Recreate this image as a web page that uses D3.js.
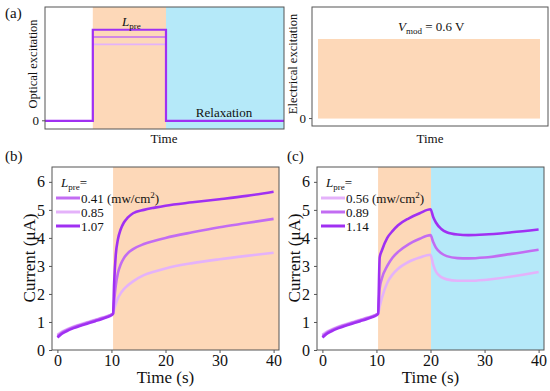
<!DOCTYPE html>
<html>
<head>
<meta charset="utf-8">
<script src="https://cdn.jsdelivr.net/npm/d3@7"></script>
<style>
body { margin:0; background:#fff; }
svg text { font-family:"Liberation Serif","Tinos","Times New Roman","Times","Nimbus Roman","DejaVu Serif",serif; fill:#111; }
</style>
</head>
<body>
<svg id="fig" width="550" height="391"></svg>
<script>
// colores de las curvas
var cDark = "#a030f2", cMed = "#c26cf2", cLight = "#e4b2fa";
var cOrange = "#fdd8b8", cCyan = "#b5e9f9";

// (a) excitacion optica: niveles del pulso
var pulseT = [0, 8, 8, 20.25, 20.25, 40];
var pulseLevels = [1.0, 0.92, 0.84];
var pulseColors = [cDark, cMed, cLight];

// (b) curvas de corriente
var bT = [0, 0.5, 1, 2, 3, 4, 5, 6, 7, 8, 9, 10, 10.3, 10.5, 10.8, 11.2, 11.7, 12.3, 13, 14, 16, 18, 20, 25, 30, 35, 40];
var bDark  = [0.45, 0.53, 0.6, 0.7, 0.78, 0.85, 0.91, 0.97, 1.03, 1.09, 1.16, 1.24, 1.3, 2.4, 3.4, 3.95, 4.3, 4.55, 4.72, 4.88, 5.0, 5.08, 5.15, 5.27, 5.38, 5.5, 5.65];
var bMed   = [0.5, 0.57, 0.64, 0.73, 0.81, 0.88, 0.94, 1.0, 1.06, 1.12, 1.18, 1.26, 1.3, 1.75, 2.3, 2.75, 3.05, 3.28, 3.45, 3.6, 3.78, 3.9, 4.0, 4.2, 4.38, 4.53, 4.68];
var bLight = [0.55, 0.61, 0.67, 0.76, 0.84, 0.9, 0.96, 1.02, 1.08, 1.14, 1.2, 1.27, 1.3, 1.45, 1.65, 1.85, 2.02, 2.17, 2.3, 2.45, 2.67, 2.8, 2.91, 3.1, 3.24, 3.36, 3.47];
var bLegend = ["0.41 (mw/cm", "0.85", "1.07"];
var bLegendColors = [cMed, cLight, cDark];

// (c) curvas de corriente con relajacion
var cT = [0, 0.5, 1, 2, 3, 4, 5, 6, 7, 8, 9, 10, 10.3, 10.6, 11, 12, 13, 14, 16, 18, 20, 20.5, 21, 22, 23, 25, 27, 30, 35, 40];
var cDarkV  = [0.45, 0.53, 0.6, 0.7, 0.78, 0.85, 0.91, 0.97, 1.03, 1.09, 1.16, 1.24, 1.3, 3.3, 3.55, 4.0, 4.25, 4.45, 4.7, 4.88, 5.02, 4.75, 4.55, 4.32, 4.2, 4.12, 4.1, 4.12, 4.2, 4.3];
var cMedV   = [0.5, 0.57, 0.64, 0.73, 0.81, 0.88, 0.94, 1.0, 1.06, 1.12, 1.18, 1.26, 1.3, 2.2, 2.55, 3.0, 3.3, 3.5, 3.78, 3.97, 4.1, 3.85, 3.65, 3.45, 3.35, 3.28, 3.27, 3.3, 3.43, 3.58];
var cLightV = [0.55, 0.61, 0.67, 0.76, 0.84, 0.9, 0.96, 1.02, 1.08, 1.14, 1.2, 1.27, 1.3, 1.55, 1.85, 2.4, 2.7, 2.9, 3.15, 3.3, 3.4, 3.05, 2.8, 2.6, 2.52, 2.47, 2.47, 2.5, 2.62, 2.78];
var cLegend = ["0.56 (mw/cm", "0.89", "1.14"];
var cLegendColors = [cLight, cMed, cDark];

var xTicks = [0, 10, 20, 30, 40];
var yTicks = [0, 1, 2, 3, 4, 5, 6];

var svg = d3.select("#fig");

function marco(g, x0, x1, y0, y1) {
	g.append("rect").attr("x", x0).attr("y", y0).attr("width", x1 - x0).attr("height", y1 - y0)
		.attr("fill", "none").attr("stroke", "#555").attr("stroke-width", 1);
}

//********************** (a) izquierda ***********************//
var ax = d3.scaleLinear().domain([0, 40]).range([45, 284]);
var ay = d3.scaleLinear().domain([-0.09, 1.25]).range([129, 7]);
svg.append("rect").attr("x", ax(8)).attr("y", 7).attr("width", ax(20.25) - ax(8)).attr("height", 122).attr("fill", cOrange);
svg.append("rect").attr("x", ax(20.25)).attr("y", 7).attr("width", ax(40) - ax(20.25)).attr("height", 122).attr("fill", cCyan);
pulseLevels.slice().reverse().forEach(function(lv, k) {
	var i = pulseLevels.length - 1 - k;
	var vals = [0, 0, lv, lv, 0, 0];
	svg.append("path")
		.datum(pulseT.map(function(t, j) { return [t, vals[j]]; }))
		.attr("fill", "none").attr("stroke", pulseColors[i]).attr("stroke-width", i == 0 ? 2.2 : 1.6)
		.attr("d", d3.line().x(function(d) { return ax(d[0]); }).y(function(d) { return ay(d[1]); }));
});
marco(svg, 45, 284, 7, 129);
svg.append("line").attr("x1", 42).attr("x2", 45).attr("y1", ay(0)).attr("y2", ay(0)).attr("stroke", "#555");
svg.append("text").attr("x", 39).attr("y", ay(0) + 4.5).attr("text-anchor", "end").attr("font-size", 13).text("0");
svg.append("text").attr("x", 5).attr("y", 18).attr("font-size", 15).text("(a)");
svg.append("text").attr("transform", "translate(37,64) rotate(-90)").attr("text-anchor", "middle").attr("font-size", 12.5).text("Optical excitation");
svg.append("text").attr("x", 164).attr("y", 143).attr("text-anchor", "middle").attr("font-size", 13).text("Time");
var lp = svg.append("text").attr("x", 122).attr("y", 26).attr("font-size", 13);
lp.append("tspan").attr("font-style", "italic").text("L");
lp.append("tspan").attr("font-size", 9).attr("dy", 3).text("pre");
svg.append("text").attr("x", 224).attr("y", 117).attr("text-anchor", "middle").attr("font-size", 13).text("Relaxation");

//********************** (a) derecha ***********************//
var ey = d3.scaleLinear().domain([-0.1, 1.5]).range([126, 7]);
svg.append("rect").attr("x", 318).attr("y", ey(1.07)).attr("width", 540 - 318).attr("height", ey(0) - ey(1.07)).attr("fill", cOrange);
marco(svg, 312, 548, 7, 126);
svg.append("line").attr("x1", 309).attr("x2", 312).attr("y1", ey(0)).attr("y2", ey(0)).attr("stroke", "#555");
svg.append("text").attr("x", 306).attr("y", ey(0) + 4.5).attr("text-anchor", "end").attr("font-size", 13).text("0");
svg.append("text").attr("transform", "translate(297,64) rotate(-90)").attr("text-anchor", "middle").attr("font-size", 12.5).text("Electrical excitation");
svg.append("text").attr("x", 430).attr("y", 143).attr("text-anchor", "middle").attr("font-size", 13).text("Time");
var vm = svg.append("text").attr("x", 398).attr("y", 31).attr("font-size", 13);
vm.append("tspan").attr("font-style", "italic").text("V");
vm.append("tspan").attr("font-size", 9).attr("dy", 3).text("mod");
vm.append("tspan").attr("dy", -3).text(" = 0.6 V");

//********************** (b) y (c) ***********************//
function panel(x0, label, labelX, tArr, series, colors, legend, legendColors, fondos) {
	var x = d3.scaleLinear().domain([-1, 41]).range([x0, x0 + 227]);
	var y = d3.scaleLinear().domain([0, 6.53]).range([350, 167]);
	var g = svg.append("g");
	fondos.forEach(function(f) {
		g.append("rect").attr("x", x(f[0])).attr("y", 167).attr("width", x(f[1]) - x(f[0])).attr("height", 183).attr("fill", f[2]);
	});
	var line = d3.line().curve(d3.curveMonotoneX).x(function(d) { return x(d[0]); }).y(function(d) { return y(d[1]); });
	series.forEach(function(s, i) {
		g.append("path").datum(tArr.map(function(t, j) { return [t, s[j]]; }))
			.attr("fill", "none").attr("stroke", colors[i]).attr("stroke-width", 2.6).attr("d", line);
	});
	marco(g, x0, x0 + 227, 167, 350);
	var xa = g.append("g").attr("transform", "translate(0,350)")
		.call(d3.axisBottom(x).tickValues(xTicks).tickFormat(d3.format("d")).tickSize(3).tickPadding(2));
	var ya = g.append("g").attr("transform", "translate(" + x0 + ",0)")
		.call(d3.axisLeft(y).tickValues(yTicks).tickFormat(d3.format("d")).tickSize(3).tickPadding(4));
	[xa, ya].forEach(function(a) {
		a.attr("font-family", null).attr("font-size", null);
		a.select(".domain").remove();
		a.selectAll("line").attr("stroke", "#555");
		a.selectAll("text").attr("font-size", 16).attr("fill", "#111");
	});
	g.append("text").attr("x", labelX).attr("y", 161).attr("font-size", 15).text(label);
	g.append("text").attr("transform", "translate(" + (x0 - 17) + ",258) rotate(-90)")
		.attr("text-anchor", "middle").attr("font-size", 17).text("Current (μA)");
	g.append("text").attr("x", x(20)).attr("y", 383).attr("text-anchor", "middle").attr("font-size", 17).text("Time (s)");
	var lt = g.append("text").attr("x", x0 + 9).attr("y", 187).attr("font-size", 13);
	lt.append("tspan").attr("font-style", "italic").text("L");
	lt.append("tspan").attr("font-size", 9).attr("dy", 3).text("pre");
	lt.append("tspan").attr("dy", -3).text("=");
	legend.forEach(function(name, i) {
		var ly = 198 + i * 14;
		g.append("line").attr("x1", x0 + 4).attr("x2", x0 + 28).attr("y1", ly).attr("y2", ly)
			.attr("stroke", legendColors[i]).attr("stroke-width", 3);
		var tx = g.append("text").attr("x", x0 + 29).attr("y", ly + 4.5).attr("font-size", 13).text(name);
		if (i == 0) {
			tx.append("tspan").attr("font-size", 9).attr("dy", -5).text("2");
			tx.append("tspan").attr("dy", 5).text(")");
		}
	});
}

panel(52, "(b)", 5, bT, [bLight, bMed, bDark], [cLight, cMed, cDark], bLegend, bLegendColors,
	[[10.3, 41, cOrange]]);
panel(317, "(c)", 287, cT, [cLightV, cMedV, cDarkV], [cLight, cMed, cDark], cLegend, cLegendColors,
	[[10.3, 20.1, cOrange], [20.1, 41, cCyan]]);
</script>
</body>
</html>
